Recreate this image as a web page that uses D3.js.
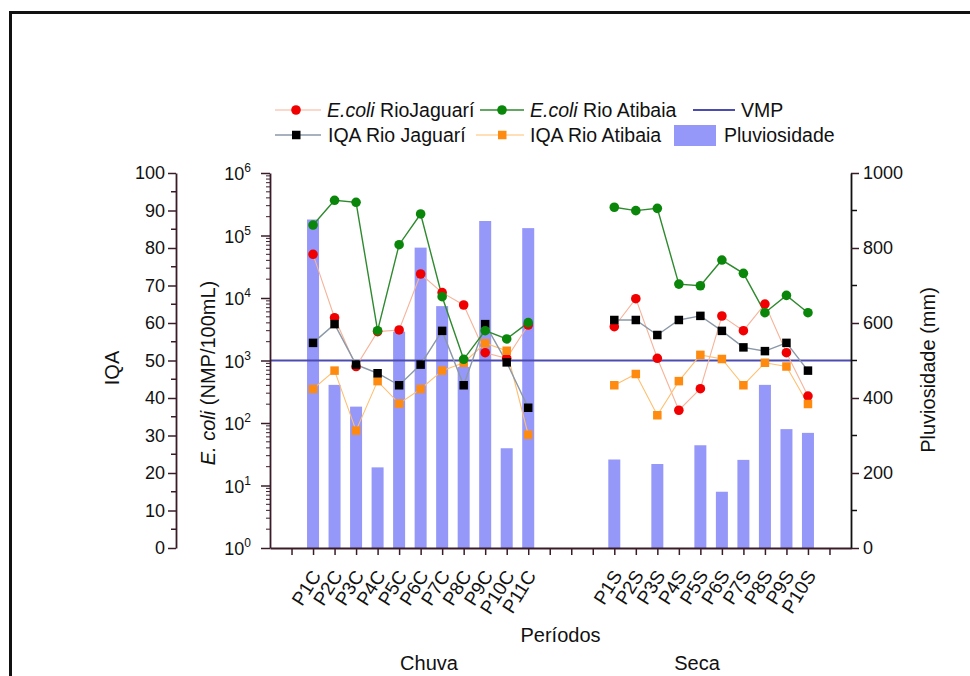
<!DOCTYPE html>
<html><head><meta charset="utf-8">
<script src="https://cdn.jsdelivr.net/npm/d3@7"></script>
<style>body{margin:0;background:#fff;} text{font-family:"Liberation Sans",Arial,sans-serif;}</style>
</head><body>
<svg id="c" width="970" height="676"></svg>
<script>
// ---- data ----
const chuvaCats = ["P1C","P2C","P3C","P4C","P5C","P6C","P7C","P8C","P9C","P10C","P11C"];
const secaCats  = ["P1S","P2S","P3S","P4S","P5S","P6S","P7S","P8S","P9S","P10S"];
const rainChuva = [876,435,377,215,577,801,645,483,872,266,853];
const rainSeca  = [236,null,224,null,274,150,235,435,317,307];
const ecoliJagChuva = [50000,4840,800,2900,3080,24200,12200,7730,1333,1084,3700];
const ecoliJagSeca  = [3470,9750,1084,160,354,5150,3000,8010,1333,270];
const ecoliAtiChuva = [147000,366000,340000,3000,71300,221000,10500,1045,3000,2210,4030];
const ecoliAtiSeca  = [283000,250000,272000,16700,15700,40500,24800,5820,11000,5820];
const iqaJagChuva = [54.7,59.7,48.9,46.6,43.4,48.9,57.9,43.4,59.7,49.5,37.4];
const iqaJagSeca  = [60.8,60.8,56.8,60.8,61.9,57.9,53.5,52.5,54.7,47.3];
const iqaAtiChuva = [42.4,47.3,31.3,44.5,38.5,42.4,47.3,49.4,54.6,52.6,30.2];
const iqaAtiSeca  = [43.4,46.4,35.4,44.5,51.5,50.4,43.4,49.4,48.4,38.4];
const vmp = 1000;
const iqaTicks = [0,10,20,30,40,50,60,70,80,90,100];
const rainTicks = [0,200,400,600,800,1000];
const logExps = [0,1,2,3,4,5,6];

// ---- layout ----
const svg = d3.select("#c");
const X0=270, X1=851, YB=548, YT=173;
const x = d3.scaleLinear().domain([0,27]).range([X0,X1]);
const yI = d3.scaleLinear().domain([0,100]).range([YB,YT]);
const yL = d3.scaleLog().domain([1,1e6]).range([YB,YT]);
const yR = d3.scaleLinear().domain([0,1000]).range([YB,YT]);
const posC = i => i+2, posS = i => i+16;
const axisCol = "#3a1c28";
const TXT = "#111";

// frame
svg.append("line").attr("x1",9).attr("x2",970).attr("y1",12.5).attr("y2",12.5).attr("stroke","#111").attr("stroke-width",3);
svg.append("line").attr("x1",10.5).attr("x2",10.5).attr("y1",11).attr("y2",676).attr("stroke","#111").attr("stroke-width",3);

// bars
const bars = [];
chuvaCats.forEach((c,i)=>{ if(rainChuva[i]!=null) bars.push({p:posC(i),v:rainChuva[i]}); });
secaCats.forEach((c,i)=>{ if(rainSeca[i]!=null) bars.push({p:posS(i),v:rainSeca[i]}); });
const bw = 12;
svg.append("g").selectAll("rect").data(bars).join("rect")
  .attr("x",d=>x(d.p)-bw/2).attr("width",bw)
  .attr("y",d=>yR(d.v)).attr("height",d=>YB-yR(d.v))
  .attr("fill","#9598f8");

// VMP line
svg.append("line").attr("x1",X0).attr("x2",X1).attr("y1",yL(vmp)).attr("y2",yL(vmp))
  .attr("stroke","#4c4cb0").attr("stroke-width",1.8);

// series
function series(vals, posFn){ return vals.map((v,i)=>({p:posFn(i),v})); }
function drawLine(data, yScale, color, w){
  svg.append("path").datum(data).attr("fill","none").attr("stroke",color).attr("stroke-width",w)
    .attr("d", d3.line().x(d=>x(d.p)).y(d=>yScale(d.v)));
}
function drawCircles(data,yScale,color){
  svg.append("g").selectAll("circle").data(data).join("circle")
   .attr("cx",d=>x(d.p)).attr("cy",d=>yScale(d.v)).attr("r",4.8).attr("fill",color);
}
function drawSquares(data,yScale,color){
  const s=8.5;
  svg.append("g").selectAll("rect").data(data).join("rect")
   .attr("x",d=>x(d.p)-s/2).attr("y",d=>yScale(d.v)-s/2).attr("width",s).attr("height",s).attr("fill",color);
}
const groups = [
  {c:ecoliJagChuva,s:ecoliJagSeca,y:yL,line:"#f6b49a",lw:1.1,mk:"#f00000",type:"c"},
  {c:iqaAtiChuva,s:iqaAtiSeca,y:yI,line:"#ffbf70",lw:1.1,mk:"#ff8a10",type:"s"},
  {c:iqaJagChuva,s:iqaJagSeca,y:yI,line:"#8a98a8",lw:1.4,mk:"#000000",type:"s"},
  {c:ecoliAtiChuva,s:ecoliAtiSeca,y:yL,line:"#2f8a2f",lw:1.4,mk:"#0a870a",type:"c"}
];
groups.forEach(g=>{
  drawLine(series(g.c,posC),g.y,g.line,g.lw); drawLine(series(g.s,posS),g.y,g.line,g.lw);
});
groups.forEach(g=>{
  const f = g.type==="c"?drawCircles:drawSquares;
  f(series(g.c,posC),g.y,g.mk); f(series(g.s,posS),g.y,g.mk);
});

// axes
function styleAxis(sel){ sel.selectAll("path,line").attr("stroke",axisCol).attr("stroke-width",1.5); sel.select(".domain").attr("stroke-width",1.8); }
// x axis
const gx = svg.append("g").attr("transform",`translate(0,${YB})`)
  .call(d3.axisBottom(x).tickValues(d3.range(1,27)).tickSize(7).tickSizeOuter(0).tickFormat(""));
styleAxis(gx);
// IQA axis
const XI = 176;
const gi = svg.append("g").attr("transform",`translate(${XI},0)`)
  .call(d3.axisLeft(yI).tickValues(iqaTicks).tickSize(8).tickSizeOuter(0).tickPadding(3));
styleAxis(gi);
gi.selectAll("text").attr("font-size",18).attr("fill",TXT).attr("font-family","Liberation Sans, Arial");
svg.append("g").attr("transform",`translate(${XI},0)`).selectAll("line")
  .data(iqaTicks.slice(0,-1).map(v=>v+5)).join("line")
  .attr("x1",0).attr("x2",-5).attr("y1",d=>yI(d)).attr("y2",d=>yI(d)).attr("stroke",axisCol).attr("stroke-width",1.5);
// log axis
const gl = svg.append("g").attr("transform",`translate(${X0},0)`)
  .call(d3.axisLeft(yL).tickValues(logExps.map(e=>Math.pow(10,e))).tickSize(9).tickSizeOuter(0).tickFormat(""));
styleAxis(gl);
const minors=[];
logExps.slice(0,-1).forEach(e=>{ for(let k=2;k<10;k++) minors.push(k*Math.pow(10,e)); });
svg.append("g").attr("transform",`translate(${X0},0)`).selectAll("line").data(minors).join("line")
  .attr("x1",0).attr("x2",-4).attr("y1",d=>yL(d)).attr("y2",d=>yL(d)).attr("stroke",axisCol).attr("stroke-width",1);
const ll = svg.append("g").selectAll("text").data(logExps).join("text")
  .attr("x",251).attr("y",e=>yL(Math.pow(10,e))+7).attr("text-anchor","end")
  .attr("font-size",18).attr("fill",TXT);
ll.append("tspan").text("10");
ll.append("tspan").attr("dy",-8).attr("font-size",12).text(e=>e);
// right axis
const gr = svg.append("g").attr("transform",`translate(${X1},0)`)
  .call(d3.axisRight(yR).tickValues(rainTicks).tickSize(8).tickSizeOuter(0).tickPadding(4).tickFormat(d3.format("d")));
styleAxis(gr);
gr.select(".domain").attr("stroke","#111");
gr.selectAll("text").attr("font-size",18).attr("fill",TXT).attr("font-family","Liberation Sans, Arial");
svg.append("g").attr("transform",`translate(${X1},0)`).selectAll("line")
  .data(rainTicks.slice(0,-1).map(v=>v+100)).join("line")
  .attr("x1",0).attr("x2",6).attr("y1",d=>yR(d)).attr("y2",d=>yR(d)).attr("stroke","#111").attr("stroke-width",1.5);

// x labels
const labels = chuvaCats.map((c,i)=>({t:c,p:posC(i)})).concat(secaCats.map((c,i)=>({t:c,p:posS(i)})));
svg.append("g").selectAll("text").data(labels).join("text")
  .attr("transform",d=>`translate(${x(d.p)+3},${572}) rotate(-58)`)
  .attr("text-anchor","end").attr("dy","0.35em").attr("font-size",19).attr("fill",TXT).text(d=>d.t);

// axis titles
svg.append("text").attr("x",(X0+X1)/2).attr("y",642).attr("text-anchor","middle").attr("font-size",20).attr("fill",TXT).text("Períodos");
svg.append("text").attr("x",429).attr("y",670).attr("text-anchor","middle").attr("font-size",20).attr("fill",TXT).text("Chuva");
svg.append("text").attr("x",697).attr("y",670).attr("text-anchor","middle").attr("font-size",20).attr("fill",TXT).text("Seca");
svg.append("text").attr("transform","translate(119,368) rotate(-90)").attr("text-anchor","middle").attr("font-size",20).attr("fill",TXT).text("IQA");
const et = svg.append("text").attr("transform","translate(215,373) rotate(-90)").attr("text-anchor","middle").attr("font-size",20).attr("fill",TXT);
et.append("tspan").attr("font-style","italic").text("E. coli");
et.append("tspan").text(" (NMP/100mL)");
svg.append("text").attr("transform","translate(935,370) rotate(-90)").attr("text-anchor","middle").attr("font-size",20).attr("fill",TXT).text("Pluviosidade (mm)");

// legend
const leg = svg.append("g");
const LF = 19.5;
function legLine(x1,x2,y,col,w){ leg.append("line").attr("x1",x1).attr("x2",x2).attr("y1",y).attr("y2",y).attr("stroke",col).attr("stroke-width",w); }
const r1=110, r2=135;
legLine(275,321,r1,"#f6b49a",1.1); leg.append("circle").attr("cx",296).attr("cy",r1).attr("r",4.8).attr("fill","#f00000");
let t=leg.append("text").attr("x",327).attr("y",r1+7).attr("font-size",LF).attr("fill",TXT);
t.append("tspan").attr("font-style","italic").text("E.coli"); t.append("tspan").text(" RioJaguarí");
legLine(480,524,r1,"#2f8a2f",1.4); leg.append("circle").attr("cx",502).attr("cy",r1).attr("r",4.8).attr("fill","#0a870a");
t=leg.append("text").attr("x",530).attr("y",r1+7).attr("font-size",LF).attr("fill",TXT);
t.append("tspan").attr("font-style","italic").text("E.coli"); t.append("tspan").text(" Rio Atibaia");
legLine(693,735,r1,"#4c4cb0",1.8);
leg.append("text").attr("x",741).attr("y",r1+7).attr("font-size",LF).attr("fill",TXT).text("VMP");
legLine(275,321,r2,"#8a98a8",1.4); leg.append("rect").attr("x",292).attr("y",r2-4.25).attr("width",8.5).attr("height",8.5).attr("fill","#000");
leg.append("text").attr("x",328).attr("y",r2+7).attr("font-size",LF).attr("fill",TXT).text("IQA Rio Jaguarí");
legLine(476,524,r2,"#ffbf70",1.1); leg.append("rect").attr("x",498).attr("y",r2-4.25).attr("width",8.5).attr("height",8.5).attr("fill","#ff8a10");
leg.append("text").attr("x",530).attr("y",r2+7).attr("font-size",LF).attr("fill",TXT).text("IQA Rio Atibaia");
leg.append("rect").attr("x",674).attr("y",r2-10).attr("width",42).attr("height",21).attr("fill","#9598f8");
leg.append("text").attr("x",724).attr("y",r2+7).attr("font-size",LF).attr("fill",TXT).text("Pluviosidade");
</script>
</body></html>
